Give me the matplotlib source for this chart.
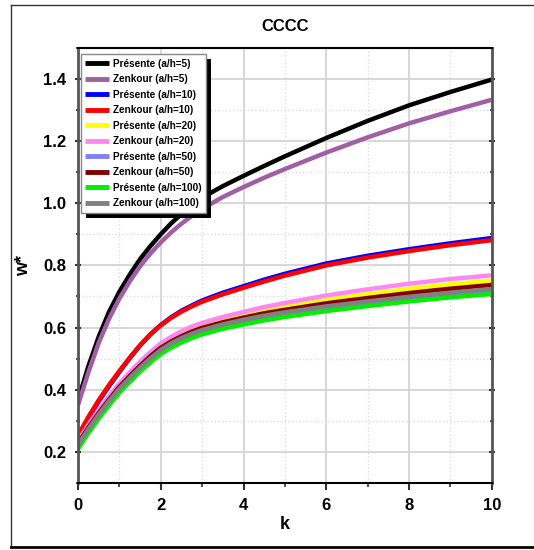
import matplotlib

matplotlib.use("Agg")

import matplotlib.pyplot as plt  # noqa: E402
from matplotlib.lines import Line2D  # noqa: E402
from matplotlib.patches import Rectangle  # noqa: E402
from matplotlib.ticker import MultipleLocator  # noqa: E402

# ---------------------------------------------------------------------------
# Data
# ---------------------------------------------------------------------------
k_values = [0, 0.25, 0.5, 0.75, 1, 1.25, 1.5, 1.75, 2, 2.25, 2.5, 2.75, 3,
            3.5, 4, 4.5, 5, 6, 7, 8, 9, 10]

presente_5 = [0.365, 0.475, 0.570, 0.650, 0.715, 0.770, 0.820, 0.862, 0.900,
              0.935, 0.965, 0.993, 1.018, 1.055, 1.088, 1.120, 1.151, 1.210,
              1.265, 1.315, 1.358, 1.398]
zenkour_5 = [0.350, 0.455, 0.550, 0.628, 0.693, 0.748, 0.797, 0.838, 0.874,
             0.906, 0.934, 0.959, 0.982, 1.020, 1.052, 1.082, 1.110, 1.163,
             1.212, 1.257, 1.296, 1.333]
presente_10 = [0.248, 0.308, 0.362, 0.411, 0.457, 0.501, 0.542, 0.578, 0.608,
               0.633, 0.654, 0.671, 0.687, 0.712, 0.733, 0.754, 0.773, 0.806,
               0.831, 0.852, 0.871, 0.888]
zenkour_10 = [0.252, 0.312, 0.366, 0.415, 0.460, 0.503, 0.543, 0.578, 0.607,
              0.631, 0.651, 0.668, 0.683, 0.707, 0.728, 0.748, 0.767, 0.800,
              0.825, 0.846, 0.865, 0.881]
presente_20 = [0.230, 0.281, 0.329, 0.372, 0.413, 0.448, 0.482, 0.512, 0.540,
               0.560, 0.578, 0.593, 0.605, 0.624, 0.639, 0.653, 0.666, 0.688,
               0.707, 0.724, 0.739, 0.751]
zenkour_20 = [0.235, 0.287, 0.335, 0.379, 0.420, 0.456, 0.490, 0.521, 0.549,
              0.570, 0.588, 0.603, 0.615, 0.634, 0.650, 0.666, 0.679, 0.703,
              0.723, 0.741, 0.756, 0.768]
presente_50 = [0.220, 0.271, 0.318, 0.361, 0.401, 0.436, 0.469, 0.499, 0.526,
               0.546, 0.563, 0.577, 0.589, 0.607, 0.621, 0.634, 0.645, 0.664,
               0.680, 0.694, 0.707, 0.718]
zenkour_50 = [0.227, 0.278, 0.325, 0.368, 0.409, 0.444, 0.477, 0.508, 0.535,
              0.555, 0.572, 0.587, 0.599, 0.617, 0.632, 0.646, 0.657, 0.678,
              0.695, 0.711, 0.725, 0.737]
presente_100 = [0.209, 0.260, 0.307, 0.350, 0.390, 0.425, 0.458, 0.488, 0.515,
                0.535, 0.552, 0.566, 0.578, 0.596, 0.610, 0.623, 0.634, 0.653,
                0.669, 0.684, 0.697, 0.708]
zenkour_100 = [0.222, 0.273, 0.320, 0.363, 0.403, 0.438, 0.471, 0.501, 0.528,
               0.549, 0.566, 0.580, 0.592, 0.610, 0.625, 0.638, 0.649, 0.668,
               0.684, 0.699, 0.712, 0.724]

series_labels = [
    "Présente (a/h=5)", "Zenkour (a/h=5)",
    "Présente (a/h=10)", "Zenkour (a/h=10)",
    "Présente (a/h=20)", "Zenkour (a/h=20)",
    "Présente (a/h=50)", "Zenkour (a/h=50)",
    "Présente (a/h=100)", "Zenkour (a/h=100)",
]
series_values = [
    presente_5, zenkour_5, presente_10, zenkour_10, presente_20,
    zenkour_20, presente_50, zenkour_50, presente_100, zenkour_100,
]
series_colors = [
    "#000000", "#a05fa5", "#0000ff", "#ff0000", "#ffff00",
    "#ff88f0", "#8080ff", "#800000", "#00ee00", "#808080",
]

NARROW = ["Liberation Sans Narrow", "Liberation Sans", "DejaVu Sans"]
REGULAR = ["Liberation Sans", "DejaVu Sans"]

# ---------------------------------------------------------------------------
# Figure
# ---------------------------------------------------------------------------
fig = plt.figure(figsize=(5.34, 5.50), dpi=100)
ax = fig.add_axes([0.146, 0.122, 0.775, 0.791])

for values, label, color in zip(series_values, series_labels, series_colors):
    ax.plot(k_values, values, color=color, linewidth=3.2, label=label,
            solid_capstyle="butt", solid_joinstyle="round")

ax.set_xlim(0, 10)
ax.set_ylim(0.1, 1.5)
ax.xaxis.set_major_locator(MultipleLocator(2))
ax.xaxis.set_minor_locator(MultipleLocator(1))
ax.yaxis.set_minor_locator(MultipleLocator(0.1))
ax.set_yticks([0.2, 0.4, 0.6, 0.8, 1.0, 1.2, 1.4])

ax.grid(which="major", color="#d4d4d4", linewidth=1.3, linestyle="-")
ax.grid(which="minor", color="#dcdcdc", linewidth=1.0, linestyle=":")
ax.set_axisbelow(True)

for side in ("left", "right"):
    ax.spines[side].set_color("#555555")
    ax.spines[side].set_linewidth(2.0)
for side in ("top", "bottom"):
    ax.spines[side].set_color("#000000")
    ax.spines[side].set_linewidth(1.5)

ax.tick_params(which="major", direction="out", length=5, width=1.5,
               color="#333333", pad=6)
ax.tick_params(which="minor", direction="out", length=3, width=1.2,
               color="#333333")
ax.tick_params(axis="y", which="both", right=True, direction="inout")

for lab in ax.get_xticklabels() + ax.get_yticklabels():
    lab.set_fontfamily(NARROW)
    lab.set_fontweight("bold")
    lab.set_fontsize(12)

ax.set_xlabel("k", family=REGULAR, fontweight="bold", fontsize=13, labelpad=2)
ax.set_ylabel("w*", family=REGULAR, fontweight="bold", fontsize=13, labelpad=8)
ax.set_title("CCCC", family=REGULAR, fontweight="bold", fontsize=12, pad=12)

leg = ax.legend(
    loc="upper left",
    bbox_to_anchor=(0.002, 0.99),
    prop={"family": NARROW, "weight": "bold", "size": 7.2},
    frameon=True,
    fancybox=False,
    framealpha=1,
    edgecolor="#888888",
    handlelength=2.4,
    handletextpad=0.35,
    labelspacing=0.55,
    borderpad=0.45,
    borderaxespad=0.2,
)
leg.get_frame().set_linewidth(1.0)
for handle in leg.get_lines():
    handle.set_linewidth(3.5)

# black drop shadow under the legend box (offset right / down)
fig.canvas.draw()
bb = leg.get_window_extent()
shadow = Rectangle((bb.x0 + 5, bb.y0 - 5), bb.width, bb.height,
                   transform=None, facecolor="black", edgecolor="none",
                   zorder=leg.get_zorder() - 0.1, clip_on=False)
ax.add_artist(shadow)

# outer frame of the picture
fig.add_artist(Line2D([0.0206, 0.0206], [0.0055, 0.991], color="#333333",
                      linewidth=1.0, transform=fig.transFigure))
fig.add_artist(Line2D([0.0206, 1.0], [0.991, 0.991], color="#333333",
                      linewidth=1.0, transform=fig.transFigure))
fig.add_artist(Line2D([0.0206, 1.0], [0.0055, 0.0055], color="#000000",
                      linewidth=2.0, transform=fig.transFigure))

fig.savefig("out.png", dpi=100)
